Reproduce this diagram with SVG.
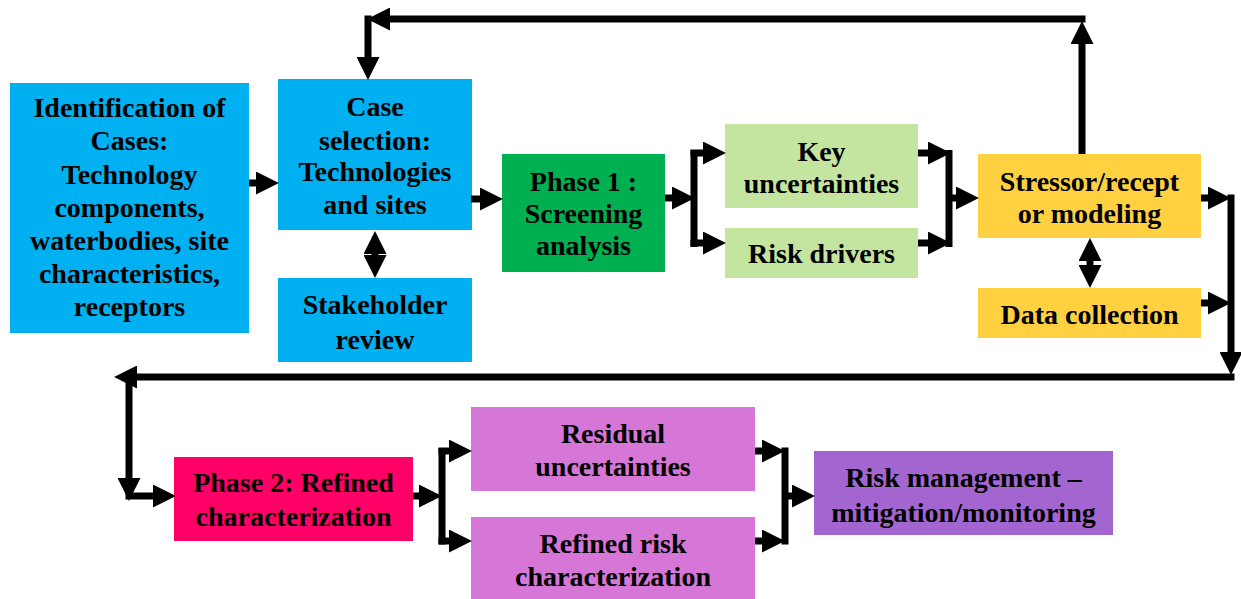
<svg xmlns="http://www.w3.org/2000/svg" width="1241" height="599" viewBox="0 0 1241 599">
<defs>
<style>
text{font-family:"Liberation Serif","Times New Roman",serif;font-weight:bold;font-size:28px;fill:#000;text-anchor:middle}
.blue{fill:#00B0F0}.green{fill:#00B050}.lg{fill:#C4E5A0}.yel{fill:#FFD040}.pink{fill:#FF0066}.orc{fill:#D676D6}.pur{fill:#A366D0}
.c{stroke:#000;stroke-width:7;fill:none}
.a{marker-end:url(#ah)}
.d{marker-start:url(#ah);marker-end:url(#ah)}
</style>
<marker id="ah" markerUnits="userSpaceOnUse" markerWidth="23" markerHeight="23" viewBox="0 0 22 22" refX="1" refY="11" orient="auto-start-reverse"><path d="M0,0 L22,11 L0,22 z" fill="#000"/></marker>
</defs>
<g id="n-identification"><rect class="blue" x="10" y="83" width="239" height="250"/>
<text x="129.5" y="117">Identification of</text><text x="129.5" y="150">Cases:</text><text x="129.5" y="184">Technology</text><text x="129.5" y="217">components,</text><text x="129.5" y="250">waterbodies, site</text><text x="129.5" y="283">characteristics,</text><text x="129.5" y="316">receptors</text></g>
<g id="n-case"><rect class="blue" x="278" y="79" width="194" height="151"/>
<text x="375" y="116">Case</text><text x="375" y="150">selection:</text><text x="375" y="181">Technologies</text><text x="375" y="214">and sites</text></g>
<g id="n-stakeholder"><rect class="blue" x="278" y="278" width="194" height="84"/>
<text x="375" y="314">Stakeholder</text><text x="375" y="349">review</text></g>
<g id="n-phase1"><rect class="green" x="502" y="154" width="163" height="118"/>
<text x="583.5" y="191">Phase 1 :</text><text x="583.5" y="223">Screening</text><text x="583.5" y="255">analysis</text></g>
<g id="n-key"><rect class="lg" x="725" y="124" width="193" height="84"/>
<text x="821.5" y="161">Key</text><text x="821.5" y="193">uncertainties</text></g>
<g id="n-risk-drivers"><rect class="lg" x="725" y="228" width="193" height="50"/>
<text x="821.5" y="263">Risk drivers</text></g>
<g id="n-stressor"><rect class="yel" x="978" y="154" width="223" height="84"/>
<text x="1089.5" y="191">Stressor/recept</text><text x="1089.5" y="223">or modeling</text></g>
<g id="n-data"><rect class="yel" x="978" y="288" width="223" height="50"/>
<text x="1089.5" y="324">Data collection</text></g>
<g id="n-phase2"><rect class="pink" x="174" y="457" width="239" height="84"/>
<text x="293.5" y="492">Phase 2: Refined</text><text x="293.5" y="526">characterization</text></g>
<g id="n-residual"><rect class="orc" x="471" y="407" width="284" height="84"/>
<text x="613" y="443">Residual</text><text x="613" y="476">uncertainties</text></g>
<g id="n-refined"><rect class="orc" x="471" y="517" width="284" height="82"/>
<text x="613" y="553">Refined risk</text><text x="613" y="586">characterization</text></g>
<g id="n-riskmgmt"><rect class="pur" x="814" y="451" width="299" height="84"/>
<text x="963.5" y="487">Risk management –</text><text x="963.5" y="522">mitigation/monitoring</text></g>
<g id="connectors">
<path class="c a" d="M249,183 H257"/>
<path class="c a" d="M471,199 H481"/>
<path class="c d" d="M375,253 V256"/>
<path class="c a" d="M665,198 H673"/>
<path class="c" d="M694,150 V247"/>
<path class="c a" d="M690.5,153 H704"/>
<path class="c a" d="M690.5,243 H704"/>
<path class="c a" d="M918,153 H929"/>
<path class="c a" d="M918,243 H929"/>
<path class="c" d="M949,150 V247"/>
<path class="c a" d="M949,198 H957"/>
<path class="c a" d="M1082,154 V43"/>
<path class="c a" d="M1085.5,19 H389"/>
<path class="c a" d="M368,15.5 V58"/>
<path class="c a" d="M1201,198 H1209"/>
<path class="c a" d="M1201,303 H1209"/>
<path class="c a" d="M1231,194.5 V353"/>
<path class="c d" d="M1090,260 V266"/>
<path class="c a" d="M1234.5,377 H136"/>
<path class="c a" d="M129,373.5 V479"/>
<path class="c a" d="M125.5,496 H154"/>
<path class="c a" d="M413,496 H420"/>
<path class="c" d="M442,448 V544.5"/>
<path class="c a" d="M438.5,451 H450"/>
<path class="c a" d="M438.5,541 H450"/>
<path class="c a" d="M755,451 H763"/>
<path class="c a" d="M755,541 H763"/>
<path class="c" d="M785,447.5 V544.5"/>
<path class="c a" d="M785,496 H793"/>
</g>
</svg>
